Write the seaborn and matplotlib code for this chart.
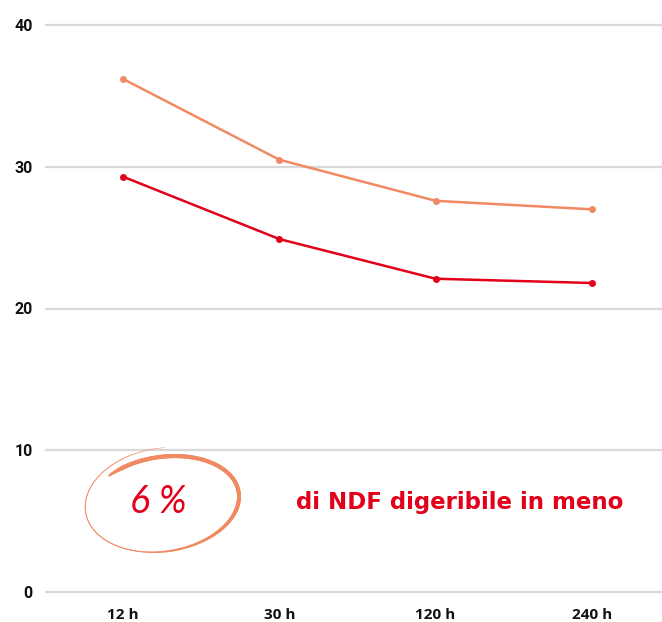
import numpy as np
import pandas as pd
import seaborn as sns
from matplotlib import pyplot as plt
from matplotlib.collections import LineCollection

# data
tempi = ['12 h', '30 h', '120 h', '240 h']
serie_a = [36.2, 30.5, 27.6, 27.0]   # orange line
serie_b = [29.3, 24.9, 22.1, 21.8]   # red line
y_ticks = [0, 10, 20, 30, 40]

ORANGE = '#f08a62'
RED = '#e2001a'

df = pd.DataFrame({
    'tempo': tempi * 2,
    'valore': serie_a + serie_b,
    'serie': ['A'] * len(tempi) + ['B'] * len(tempi),
})

sns.set_theme(style='white')
plt.rcParams['font.family'] = ['Open Sans', 'DejaVu Sans']

fig = plt.figure(figsize=(6.62, 6.22), dpi=100)
ax = fig.add_axes([45 / 662, 28 / 622, 625 / 662, 571 / 622])

sns.lineplot(data=df, x='tempo', y='valore', hue='serie',
             palette={'A': ORANGE, 'B': RED}, marker='o', markersize=5,
             markeredgewidth=0, linewidth=1.8, sort=False, legend=False, ax=ax)

ax.set_xlim(-0.5, 3.5)
ax.set_ylim(-0.15, 40.15)
ax.set_yticks(y_ticks)
ax.set_yticklabels([str(v) for v in y_ticks])
ax.yaxis.grid(True, color='#d9d9d9', linewidth=1.6)
ax.xaxis.grid(False)
ax.set_axisbelow(True)
for s in ax.spines.values():
    s.set_visible(False)
ax.tick_params(axis='both', length=0, labelcolor='#111111')
ax.tick_params(axis='y', pad=9, labelsize=11.5)
ax.tick_params(axis='x', pad=10, labelsize=11)
for lab in ax.get_yticklabels():
    lab.set_family(['Roboto', 'DejaVu Sans'])
    lab.set_fontweight('bold')
for lab in ax.get_xticklabels():
    lab.set_fontweight('bold')
ax.set_xlabel('')
ax.set_ylabel('')

# overlay in pixel coords for the hand-drawn circle and the callout
ov = fig.add_axes([0, 0, 1, 1], zorder=5)
ov.set_xlim(0, 662)
ov.set_ylim(622, 0)
ov.axis('off')

t = np.radians(np.linspace(228, 636, 400))
a = np.linspace(75, 79, t.size)
b = np.linspace(44, 54, t.size)
rot = np.radians(-7)
ex, ey = a * np.cos(t), b * np.sin(t)
px = 163 + ex * np.cos(rot) - ey * np.sin(rot)
py = 502 + ex * np.sin(rot) + ey * np.cos(rot)
deg = np.degrees(t)
lw = np.interp(deg, [228, 240, 380, 470, 600, 636], [1.5, 3.0, 2.8, 0.8, 0.6, 0.3])
pts = np.column_stack([px, py]).reshape(-1, 1, 2)
segs = np.concatenate([pts[:-1], pts[1:]], axis=1)
ov.add_collection(LineCollection(segs, linewidths=lw[:-1], colors=ORANGE,
                                 capstyle='round'))

ov.text(158, 502, '6 %', color=RED, fontsize=27, style='italic',
        fontweight='normal', ha='center', va='center',
        family=['Lato', 'Open Sans', 'DejaVu Sans'])
ov.text(460, 502, 'di NDF digeribile in meno', color=RED, fontsize=16.5,
        fontweight='bold', ha='center', va='center', family='DejaVu Sans')

fig.savefig('out.png', dpi=100)
